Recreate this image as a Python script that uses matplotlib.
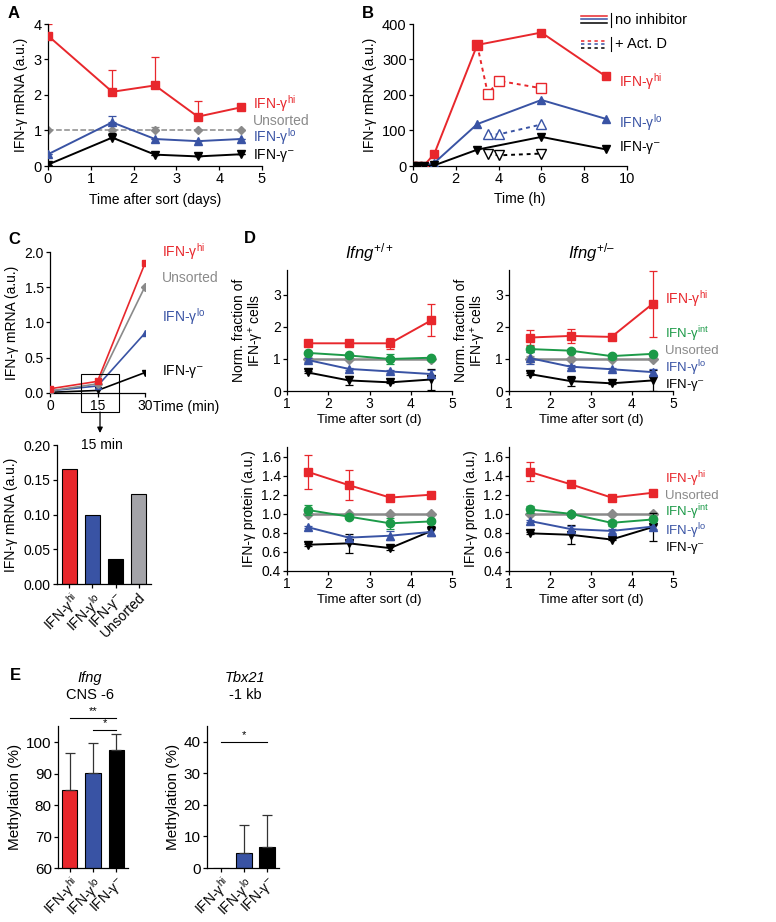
import matplotlib
matplotlib.use("Agg")
import matplotlib.pyplot as plt
from matplotlib.lines import Line2D
from matplotlib.patches import Rectangle

plt.rcParams['font.family'] = ['Liberation Sans', 'DejaVu Sans']
plt.rcParams['mathtext.fontset'] = 'custom'
plt.rcParams['mathtext.rm'] = 'Liberation Sans'
plt.rcParams['mathtext.it'] = 'Liberation Sans:italic'
plt.rcParams['mathtext.bf'] = 'Liberation Sans:bold'
plt.rcParams['axes.linewidth'] = 0.9
plt.rcParams['xtick.major.width'] = 0.9
plt.rcParams['ytick.major.width'] = 0.9
plt.rcParams['xtick.major.size'] = 3
plt.rcParams['ytick.major.size'] = 3

RED = '#e8272c'
BLUE = '#3953a4'
GREEN = '#1c9a48'
GREY = '#8a8a8a'
BLACK = '#000000'

HI = 'IFN-γ$^{\\mathrm{hi}}$'
LO = 'IFN-γ$^{\\mathrm{lo}}$'
INT = 'IFN-γ$^{\\mathrm{int}}$'
NEG = 'IFN-γ$^{\\mathrm{\u2013}}$'

# ---------------- data ----------------
# Panel A
A_x = [0, 1.5, 2.5, 3.5, 4.5]
A_hi = [3.67, 2.09, 2.27, 1.39, 1.65]
A_hi_err = [0.33, 0.61, 0.81, 0.45, 0.0]
A_uns = [1.0, 1.0, 1.0, 1.0, 1.0]
A_uns_err = [0.0, 0.0, 0.1, 0.0, 0.0]
A_lo = [0.33, 1.23, 0.76, 0.70, 0.76]
A_lo_err = [0.0, 0.18, 0.0, 0.0, 0.0]
A_neg = [0.04, 0.80, 0.32, 0.27, 0.33]
A_neg_err = [0.0, 0.14, 0.0, 0.0, 0.0]

# Panel B
B_x = [0, 0.25, 0.5, 1, 3, 6, 9]
B_hi = [0, 0, 0, 35, 341, 376, 253]
B_lo = [0, 0, 0, 9, 118, 186, 133]
B_neg = [0, 0, 0, 2, 46, 82, 47]
B_act_hi_x = [3, 3.5, 4, 6]
B_act_hi = [341, 203, 240, 219]
B_act_x = [3.5, 4, 6]
B_act_lo = [89, 89, 117]
B_act_neg = [34, 30, 35]

# Panel C
C_x = [0, 15, 30]
C_hi = [0.06, 0.165, 1.84]
C_uns = [0.03, 0.13, 1.51]
C_lo = [0.03, 0.10, 0.85]
C_neg = [0.01, 0.036, 0.29]
C_bar_labels = [HI, LO, NEG, 'Unsorted']
C_bar_vals = [0.165, 0.10, 0.036, 0.13]

# Panel D
D_x = [1.5, 2.5, 3.5, 4.5]
# top-left (Ifng+/+), fraction
D1_hi = [1.49, 1.49, 1.49, 2.21]; D1_hi_err = [0.06, 0.05, 0.17, 0.5]
D1_int = [1.19, 1.11, 1.0, 1.04]; D1_int_err = [0.04, 0.03, 0.17, 0.03]
D1_uns = [1.0, 1.0, 1.0, 1.0]; D1_uns_err = [0.0, 0.0, 0.0, 0.0]
D1_lo = [0.97, 0.69, 0.61, 0.53]; D1_lo_err = [0.05, 0.04, 0.04, 0.12]
D1_neg = [0.58, 0.33, 0.27, 0.36]; D1_neg_err = [0.03, 0.15, 0.03, 0.34]
# top-right (Ifng+/-), fraction
D2_hi = [1.67, 1.72, 1.69, 2.72]; D2_hi_err = [0.22, 0.23, 0.05, 1.03]
D2_int = [1.31, 1.26, 1.09, 1.16]; D2_int_err = [0.1, 0.04, 0.08, 0.04]
D2_uns = [1.0, 1.0, 1.0, 1.0]; D2_uns_err = [0.1, 0.0, 0.0, 0.0]
D2_lo = [1.03, 0.76, 0.68, 0.59]; D2_lo_err = [0.18, 0.04, 0.04, 0.1]
D2_neg = [0.53, 0.31, 0.24, 0.33]; D2_neg_err = [0.03, 0.15, 0.03, 0.33]
# bottom-left (Ifng+/+), protein
D3_hi = [1.44, 1.30, 1.17, 1.20]; D3_hi_err = [0.18, 0.16, 0.02, 0.02]
D3_int = [1.04, 0.97, 0.90, 0.92]; D3_int_err = [0.05, 0.03, 0.06, 0.02]
D3_uns = [1.0, 1.0, 1.0, 1.0]; D3_uns_err = [0.0, 0.0, 0.0, 0.0]
D3_lo = [0.86, 0.75, 0.77, 0.81]; D3_lo_err = [0.01, 0.02, 0.05, 0.03]
D3_neg = [0.675, 0.69, 0.64, 0.82]; D3_neg_err = [0.01, 0.1, 0.02, 0.05]
# bottom-right (Ifng+/-), protein
D4_hi = [1.44, 1.31, 1.17, 1.22]; D4_hi_err = [0.1, 0.02, 0.02, 0.02]
D4_int = [1.045, 1.0, 0.905, 0.94]; D4_int_err = [0.04, 0.01, 0.03, 0.02]
D4_uns = [1.0, 1.0, 1.0, 1.0]; D4_uns_err = [0.0, 0.0, 0.0, 0.0]
D4_lo = [0.925, 0.84, 0.82, 0.865]; D4_lo_err = [0.01, 0.03, 0.02, 0.02]
D4_neg = [0.795, 0.78, 0.73, 0.86]; D4_neg_err = [0.01, 0.1, 0.01, 0.15]

# Panel E
E_labels = [HI, LO, NEG]
E1_vals = [84.7, 90.2, 97.6]
E1_err = [11.9, 9.5, 5.0]
E2_vals = [0.0, 4.8, 6.8]
E2_err = [0.0, 8.9, 10.0]

# ---------------- figure ----------------
W, H = 776, 922
fig = plt.figure(figsize=(W / 100, H / 100), dpi=100)


def axpx(left, top, right, bottom):
    ax = fig.add_axes([left / W, 1 - bottom / H, (right - left) / W, (bottom - top) / H])
    ax.spines['top'].set_visible(False)
    ax.spines['right'].set_visible(False)
    ax.patch.set_alpha(0)
    return ax


def ft(x, y, s, **kw):
    kw.setdefault('va', 'center')
    return fig.text(x / W, 1 - y / H, s, **kw)


def series(ax, x, y, err, color, marker, ls='-', one_sided=False, ms=5.5, mfc=None, lw=1.4, z=3):
    if err is not None:
        yerr = [[0] * len(err), err] if one_sided else err
        ax.errorbar(x, y, yerr=yerr, fmt='none', ecolor=color, elinewidth=0.9,
                    capsize=3, capthick=0.9, zorder=z - 1)
    ax.plot(x, y, color=color, marker=marker, ls=ls, lw=lw, ms=ms,
            mfc=color if mfc is None else mfc, mec=color, mew=1.0, zorder=z)


FS = 10
FSD = 9.5
FSL = 9.5  # stacked series labels

# ---------- Panel A ----------
axA = axpx(48, 24, 262, 166)
series(axA, A_x, A_uns, A_uns_err, GREY, 'D', ls='--', one_sided=True, ms=4.5, lw=1.1, z=2)
series(axA, A_x, A_hi, A_hi_err, RED, 's', one_sided=True, ms=6)
series(axA, A_x, A_lo, A_lo_err, BLUE, '^', one_sided=True)
series(axA, A_x, A_neg, A_neg_err, BLACK, 'v', one_sided=True)
axA.set_xlim(0, 5)
axA.set_ylim(0, 4)
axA.set_xticks(range(6))
axA.set_yticks(range(5))
axA.tick_params(labelsize=FS + 0.5, pad=1.5)
axA.set_xlabel('Time after sort (days)', fontsize=FS, labelpad=5)
axA.set_ylabel('IFN-γ mRNA (a.u.)', fontsize=FS, labelpad=4)
ft(253, 104, HI, color=RED, fontsize=FS)
ft(253, 121, 'Unsorted', color=GREY, fontsize=FS)
ft(253, 137, LO, color=BLUE, fontsize=FS)
ft(253, 155, NEG, color=BLACK, fontsize=FS)
ft(8, 14, 'A', fontsize=12, fontweight='bold')

# ---------- Panel B ----------
axB = axpx(413, 24, 627, 166)
series(axB, B_act_hi_x, B_act_hi, None, RED, 's', ls=(0, (2, 2)), mfc='white', ms=6.5)
series(axB, B_act_x, B_act_lo, None, BLUE, '^', ls=(0, (2, 2)), mfc='white', ms=6.5)
series(axB, B_act_x, B_act_neg, None, BLACK, 'v', ls=(0, (2, 2)), mfc='white', ms=6.5)
series(axB, B_x, B_hi, None, RED, 's', ms=6)
series(axB, B_x, B_lo, None, BLUE, '^')
series(axB, B_x, B_neg, None, BLACK, 'v')
axB.set_xlim(0, 10)
axB.set_ylim(0, 400)
axB.set_xticks(range(0, 11, 2))
axB.set_yticks(range(0, 401, 100))
axB.tick_params(labelsize=FS + 0.5, pad=1.5)
axB.set_xlabel('Time (h)', fontsize=FS, labelpad=4)
axB.set_ylabel('IFN-γ mRNA (a.u.)', fontsize=FS, labelpad=4)
ft(619, 82, HI, color=RED, fontsize=FS)
ft(619, 123, LO, color=BLUE, fontsize=FS)
ft(619, 147, NEG, color=BLACK, fontsize=FS)
ft(362, 14, 'B', fontsize=12, fontweight='bold')
# legend
for yy, c in [(16, RED), (19.5, BLUE), (23, BLACK)]:
    fig.add_artist(Line2D([581 / W, 607 / W], [1 - yy / H, 1 - yy / H], color=c, lw=1.1))
for yy, c in [(41, RED), (44.5, BLUE), (48, BLACK)]:
    fig.add_artist(Line2D([581 / W, 607 / W], [1 - yy / H, 1 - yy / H], color=c, lw=1.1,
                          ls=(0, (2.2, 2.2))))
fig.add_artist(Line2D([611 / W, 611 / W], [1 - 13 / H, 1 - 27 / H], color='black', lw=0.8))
fig.add_artist(Line2D([611 / W, 611 / W], [1 - 37 / H, 1 - 51 / H], color='black', lw=0.8))
ft(615, 20, 'no inhibitor', fontsize=FS + 0.5)
ft(615, 44, '+ Act. D', fontsize=FS + 0.5)

# ---------- Panel C top ----------
axC = axpx(50, 252, 145, 393)
series(axC, C_x, C_neg, None, BLACK, 'v', ms=5, lw=1.2)
series(axC, C_x, C_lo, None, BLUE, '^', ms=5, lw=1.2)
series(axC, C_x, C_uns, None, GREY, 'D', ms=4.5, lw=1.2)
series(axC, C_x, C_hi, None, RED, 's', ms=5, lw=1.2)
axC.set_xlim(0, 30)
axC.set_ylim(0, 2.0)
axC.set_xticks([0, 15, 30])
axC.set_yticks([0, 0.5, 1.0, 1.5, 2.0])
axC.set_yticklabels(['0.0', '0.5', '1.0', '1.5', '2.0'])
axC.tick_params(labelsize=FS, pad=1.5)
axC.set_ylabel('IFN-γ mRNA (a.u.)', fontsize=FS, labelpad=4)
ft(153, 407, 'Time (min)', fontsize=FS)
ft(162, 252, HI, color=RED, fontsize=FS)
ft(162, 278, 'Unsorted', color=GREY, fontsize=FS)
ft(162, 317, LO, color=BLUE, fontsize=FS)
ft(162, 371, NEG, color=BLACK, fontsize=FS)
ft(8, 239, 'C', fontsize=12, fontweight='bold')
axC.add_patch(Rectangle((9.8, -0.27), 12.0, 0.54, fill=False, ec='black', lw=0.8, clip_on=False, zorder=5))
axC.annotate('', xy=(100 / W, 1 - 433 / H), xycoords='figure fraction',
             xytext=(15.8, -0.27), textcoords='data',
             arrowprops=dict(arrowstyle='-|>', color='black', lw=0.9, mutation_scale=8,
                             shrinkA=0, shrinkB=0))
ft(102, 445, '15 min', fontsize=FS, ha='center')

# ---------- Panel C bottom ----------
axCb = axpx(57, 445, 151, 584)
bar_colors = [RED, BLUE, BLACK, '#a3a3a8']
axCb.bar(range(len(C_bar_vals)), C_bar_vals, width=0.65, color=bar_colors, edgecolor='black', lw=0.8)
axCb.set_xlim(-0.54, 3.54)
axCb.set_ylim(0, 0.20)
axCb.set_yticks([0, 0.05, 0.10, 0.15, 0.20])
axCb.set_yticklabels(['0.00', '0.05', '0.10', '0.15', '0.20'])
axCb.set_xticks(range(len(C_bar_labels)))
axCb.set_xticklabels(C_bar_labels, rotation=45, ha='right', rotation_mode='anchor')
axCb.tick_params(labelsize=FS, pad=1.5)
axCb.set_ylabel('IFN-γ mRNA (a.u.)', fontsize=FS, labelpad=4)

# ---------- Panel D ----------
def dpanel(ax, hi, hie, it, ite, un, une, lo, loe, ng, nge):
    series(ax, D_x, un, une, GREY, 'D', ms=5, lw=1.8, z=2)
    series(ax, D_x, ng, nge, BLACK, 'v', ms=6)
    series(ax, D_x, lo, loe, BLUE, '^', ms=6)
    series(ax, D_x, it, ite, GREEN, 'o', ms=6)
    series(ax, D_x, hi, hie, RED, 's', ms=6)
    ax.set_xlim(1, 5)
    ax.set_xticks([1, 2, 3, 4, 5])
    ax.tick_params(labelsize=FSD + 0.5, pad=1.5)
    ax.set_xlabel('Time after sort (d)', fontsize=FSD, labelpad=2)


axD1 = axpx(287, 270, 452, 391)
dpanel(axD1, D1_hi, D1_hi_err, D1_int, D1_int_err, D1_uns, D1_uns_err, D1_lo, D1_lo_err, D1_neg, D1_neg_err)
axD2 = axpx(509, 270, 673, 391)
dpanel(axD2, D2_hi, D2_hi_err, D2_int, D2_int_err, D2_uns, D2_uns_err, D2_lo, D2_lo_err, D2_neg, D2_neg_err)
for ax in (axD1, axD2):
    ax.set_ylim(0, 3.78)
    ax.set_yticks([0, 1, 2, 3])
    ax.set_ylabel('Norm. fraction of\nIFN-γ$^{+}$ cells', fontsize=FSD + 0.5, labelpad=5, linespacing=1.05)
axD1.set_title('$\\mathit{Ifng}^{+/+}$', fontsize=12, pad=8)
axD2.set_title('$\\mathit{Ifng}^{+/\u2013}$', fontsize=12, pad=8)

axD3 = axpx(287, 447, 452, 571)
dpanel(axD3, D3_hi, D3_hi_err, D3_int, D3_int_err, D3_uns, D3_uns_err, D3_lo, D3_lo_err, D3_neg, D3_neg_err)
axD4 = axpx(509, 447, 673, 571)
dpanel(axD4, D4_hi, D4_hi_err, D4_int, D4_int_err, D4_uns, D4_uns_err, D4_lo, D4_lo_err, D4_neg, D4_neg_err)
for ax in (axD3, axD4):
    ax.set_ylim(0.4, 1.7)
    ax.set_yticks([0.4, 0.6, 0.8, 1.0, 1.2, 1.4, 1.6])
    ax.set_yticklabels(['0.4', '0.6', '0.8', '1.0', '1.2', '1.4', '1.6'])
    ax.set_ylabel('IFN-γ protein (a.u.)', fontsize=FSD + 0.5, labelpad=4)

ft(244, 238, 'D', fontsize=12, fontweight='bold')
ft(665, 299, HI, color=RED, fontsize=FS)
ft(665, 334, INT, color=GREEN, fontsize=FSL)
ft(665, 351, 'Unsorted', color=GREY, fontsize=FSL)
ft(665, 368, LO, color=BLUE, fontsize=FSL)
ft(665, 385, NEG, color=BLACK, fontsize=FSL)
ft(665, 479, HI, color=RED, fontsize=FSL)
ft(665, 496, 'Unsorted', color=GREY, fontsize=FSL)
ft(665, 512, INT, color=GREEN, fontsize=FSL)
ft(665, 531, LO, color=BLUE, fontsize=FSL)
ft(665, 548, NEG, color=BLACK, fontsize=FSL)

# ---------- Panel E ----------
E_colors = [RED, BLUE, BLACK]
axE1 = axpx(58, 726, 128, 868)
axE1.bar(range(3), E1_vals, width=0.64, bottom=0, color=E_colors, edgecolor='black', lw=0.8)
axE1.errorbar(range(3), E1_vals, yerr=[[0, 0, 0], E1_err], fmt='none', ecolor='#333333',
              elinewidth=0.9, capsize=3.5, capthick=0.9)
axE1.set_ylim(60, 105.2)
axE1.set_xlim(-0.49, 2.49)
axE1.set_yticks([60, 70, 80, 90, 100])
axE1.plot([0, 2], [107.7, 107.7], color='black', lw=0.8, clip_on=False)
axE1.plot([1, 2], [103.9, 103.9], color='black', lw=0.8, clip_on=False)
axE1.text(1, 108.2, '**', ha='center', va='bottom', fontsize=8)
axE1.text(1.5, 104.4, '*', ha='center', va='bottom', fontsize=8)
axE1.set_ylabel('Methylation (%)', fontsize=FS + 1, labelpad=3)

axE2 = axpx(207, 726, 279, 868)
axE2.bar(range(3), E2_vals, width=0.68, color=E_colors, edgecolor='black', lw=0.8)
axE2.errorbar([1, 2], E2_vals[1:], yerr=[[0, 0], E2_err[1:]], fmt='none', ecolor='#333333',
              elinewidth=0.9, capsize=3.5, capthick=0.9)
axE2.set_ylim(0, 45)
axE2.set_xlim(-0.61, 2.52)
axE2.set_yticks([0, 10, 20, 30, 40])
axE2.plot([0, 2], [40, 40], color='black', lw=0.8, clip_on=False)
axE2.text(1, 40.4, '*', ha='center', va='bottom', fontsize=8)
axE2.set_ylabel('Methylation (%)', fontsize=FS + 1, labelpad=3)

for ax in (axE1, axE2):
    ax.set_xticks(range(3))
    ax.set_xticklabels(E_labels, rotation=45, ha='right', rotation_mode='anchor')
    ax.tick_params(axis='y', labelsize=FS + 1, pad=1.5)
    ax.tick_params(axis='x', labelsize=FS, pad=1.5)

ft(10, 676, 'E', fontsize=12, fontweight='bold')
ft(90, 678, 'Ifng', fontsize=10.5, ha='center', fontstyle='italic')
ft(90, 695, 'CNS -6', fontsize=10.5, ha='center')
ft(245, 678, 'Tbx21', fontsize=10.5, ha='center', fontstyle='italic')
ft(245, 695, '-1 kb', fontsize=10.5, ha='center')

fig.savefig('out.png', dpi=100)
